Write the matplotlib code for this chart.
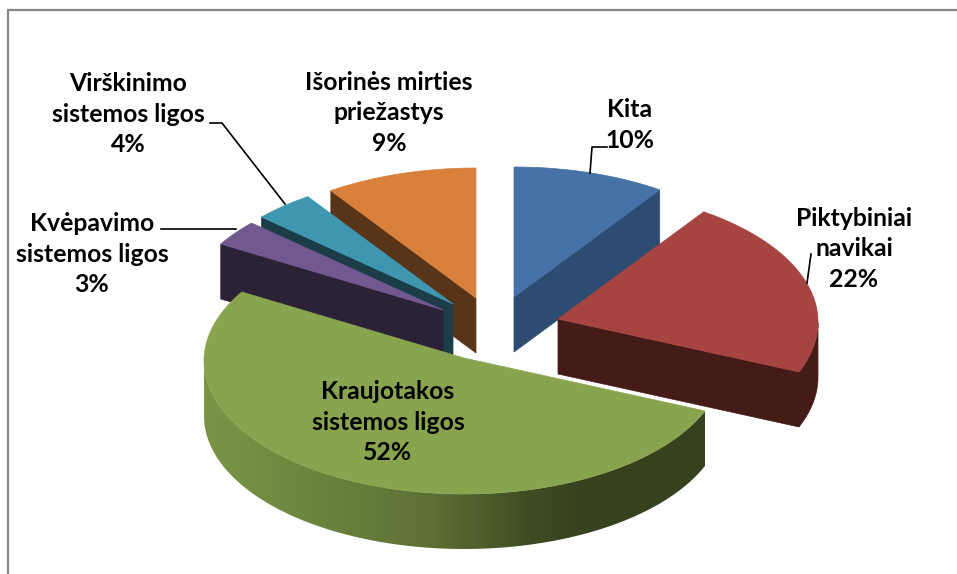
import numpy as np
import matplotlib
matplotlib.use('Agg')
import matplotlib.pyplot as plt
from matplotlib.patches import Polygon
from matplotlib.colors import LinearSegmentedColormap

# share of deaths, clockwise from 12 o'clock (labels round them)
labels = ['Kita', 'Piktybiniai\nnavikai', 'Kraujotakos\nsistemos ligos',
          'Kvėpavimo\nsistemos ligos', 'Virškinimo\nsistemos ligos',
          'Išorinės mirties\npriežastys']
values = [9.6, 21.9, 52.4, 3.1, 3.7, 9.3]

top_colors = ['#4672A7', '#A64442', '#89A44E', '#71588F', '#3E96B0', '#D9813B']
side_colors = ['#2D4C71', '#451B18', '#36421D', '#2B2237', '#1A3D48', '#583418']

# exploded slice centres in pixels, back to front drawing order below
centers = [(514, 300), (558, 322), (464, 361), (443, 313), (453, 307), (476, 301)]
draw_order = [5, 0, 4, 3, 1, 2]
label_pos = [(630, 125), (854, 249), (388, 422), (92, 254), (128, 114), (389, 113)]

RX, RY = 260, 133
DEPTH = 55
LIFT = 3


def warp(t):
    # the chart is in perspective, so the angles on screen lag slightly
    return t - 1.6 * np.sin(np.radians(t) / 2)


def rim(cx, cy, t):
    r = np.radians(warp(np.asarray(t, dtype=float)))
    return np.column_stack([cx + RX * np.sin(r), cy - RY * np.cos(r)])


fig = plt.figure(figsize=(9.57, 5.74), dpi=100)
ax = fig.add_axes([0, 0, 1, 1])
plt.rcParams['font.family'] = ['Lato', 'DejaVu Sans']

edges = np.cumsum([0] + values) * 3.6

for i in draw_order:
    t0, t1 = edges[i], edges[i + 1]
    cx, cy = centers[i]
    ts = np.linspace(t0, t1, 120)
    arc = rim(cx, cy, ts)
    apex = np.array([[cx, cy - LIFT]])
    down = np.array([0, DEPTH])
    z = 2 + draw_order.index(i)

    # straight cut faces
    if t0 >= 180:
        p = rim(cx, cy, [t0])
        ax.add_patch(Polygon(np.vstack([apex, p, p + down, apex + down]),
                             fc=side_colors[i], ec=side_colors[i], lw=0.5, zorder=z))
    if t1 <= 180:
        p = rim(cx, cy, [t1])
        ax.add_patch(Polygon(np.vstack([apex, p, p + down, apex + down]),
                             fc=side_colors[i], ec=side_colors[i], lw=0.5, zorder=z))

    # outer wall, only the part that faces the viewer
    front = (warp(ts) > 90) & (warp(ts) < 270)
    if front.any():
        wall = arc[front]
        wall_poly = np.vstack([wall, (wall + down)[::-1]])
        if i == 2:
            shade = LinearSegmentedColormap.from_list(
                'wall', [(0, '#7A9447'), (0.12, '#728C42'), (0.45, '#5D7135'),
                         (0.65, '#3F4E22'), (0.75, '#36421D'), (1, '#36421D')])
            patch = Polygon(wall_poly, fc='none', ec='none', zorder=z)
            ax.add_patch(patch)
            x0, x1 = wall_poly[:, 0].min(), wall_poly[:, 0].max()
            y0, y1 = wall_poly[:, 1].min(), wall_poly[:, 1].max()
            im = ax.imshow(np.linspace(0, 1, 256)[None, :], cmap=shade, aspect='auto',
                           extent=(x0, x1, y1, y0), zorder=z)
            im.set_clip_path(patch)
        else:
            ax.add_patch(Polygon(wall_poly, fc=side_colors[i], ec=side_colors[i],
                                 lw=0.5, zorder=z))

    ax.add_patch(Polygon(np.vstack([apex, arc]), fc=top_colors[i], ec=top_colors[i],
                         lw=0.5, zorder=z + 0.5))

# leader lines
leaders = [([607, 592, 590], [147, 147, 173]),
           ([811, 807], [254, 283]),
           ([161, 236], [229, 229]),
           ([210, 222, 285], [123, 123, 204])]
for lx, ly in leaders:
    ax.plot(lx, ly, color='black', lw=1.2, zorder=1.5 if lx[0] == 161 else 20)

# text labels with the percentage on the last line
for name, val, (x, y) in zip(labels, values, label_pos):
    ax.text(x, y, '%s\n%.0f%%' % (name, val), ha='center', va='center',
            fontsize=17.8, fontweight='bold', color='black', linespacing=1.42, zorder=30)

# chart frame, open on the right and bottom like the cropped original
ax.plot([8, 8, 957], [574, 10, 10], color='#868686', lw=1.6, zorder=1)

ax.set_xlim(0, 957)
ax.set_ylim(574, 0)
ax.axis('off')
fig.savefig('out.png', dpi=100, facecolor='white')
